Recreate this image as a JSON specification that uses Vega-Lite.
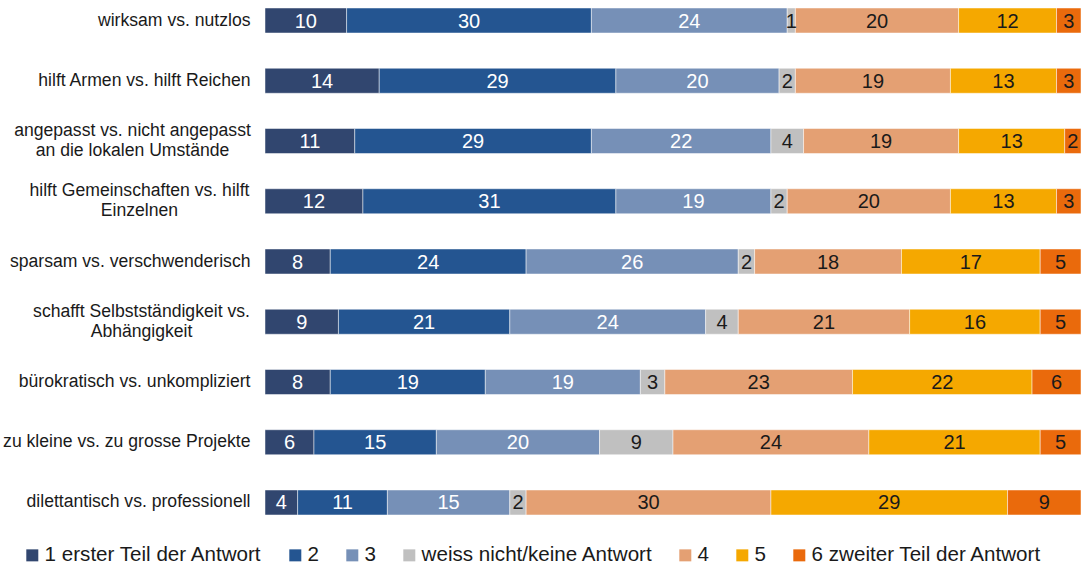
{
  "$schema": "https://vega.github.io/schema/vega-lite/v6.json",
  "width": 816,
  "height": 523,
  "autosize": {"type": "none"},
  "padding": {"left": 265, "top": 0, "right": 2, "bottom": 43},
  "background": "white",
  "config": {"view": {"stroke": null}, "font": "Liberation Sans"},
  "data": {"values": [
    {"q": "wirksam vs. nutzlos", "k": 1, "s": "1 erster Teil der Antwort", "v": 10},
    {"q": "wirksam vs. nutzlos", "k": 2, "s": "2", "v": 30},
    {"q": "wirksam vs. nutzlos", "k": 3, "s": "3", "v": 24},
    {"q": "wirksam vs. nutzlos", "k": 4, "s": "weiss nicht/keine Antwort", "v": 1},
    {"q": "wirksam vs. nutzlos", "k": 5, "s": "4", "v": 20},
    {"q": "wirksam vs. nutzlos", "k": 6, "s": "5", "v": 12},
    {"q": "wirksam vs. nutzlos", "k": 7, "s": "6 zweiter Teil der Antwort", "v": 3},
    {"q": "hilft Armen vs. hilft Reichen", "k": 1, "s": "1 erster Teil der Antwort", "v": 14},
    {"q": "hilft Armen vs. hilft Reichen", "k": 2, "s": "2", "v": 29},
    {"q": "hilft Armen vs. hilft Reichen", "k": 3, "s": "3", "v": 20},
    {"q": "hilft Armen vs. hilft Reichen", "k": 4, "s": "weiss nicht/keine Antwort", "v": 2},
    {"q": "hilft Armen vs. hilft Reichen", "k": 5, "s": "4", "v": 19},
    {"q": "hilft Armen vs. hilft Reichen", "k": 6, "s": "5", "v": 13},
    {"q": "hilft Armen vs. hilft Reichen", "k": 7, "s": "6 zweiter Teil der Antwort", "v": 3},
    {"q": "angepasst vs. nicht angepasst|an die lokalen Umstände", "k": 1, "s": "1 erster Teil der Antwort", "v": 11},
    {"q": "angepasst vs. nicht angepasst|an die lokalen Umstände", "k": 2, "s": "2", "v": 29},
    {"q": "angepasst vs. nicht angepasst|an die lokalen Umstände", "k": 3, "s": "3", "v": 22},
    {"q": "angepasst vs. nicht angepasst|an die lokalen Umstände", "k": 4, "s": "weiss nicht/keine Antwort", "v": 4},
    {"q": "angepasst vs. nicht angepasst|an die lokalen Umstände", "k": 5, "s": "4", "v": 19},
    {"q": "angepasst vs. nicht angepasst|an die lokalen Umstände", "k": 6, "s": "5", "v": 13},
    {"q": "angepasst vs. nicht angepasst|an die lokalen Umstände", "k": 7, "s": "6 zweiter Teil der Antwort", "v": 2},
    {"q": "hilft Gemeinschaften vs. hilft|Einzelnen", "k": 1, "s": "1 erster Teil der Antwort", "v": 12},
    {"q": "hilft Gemeinschaften vs. hilft|Einzelnen", "k": 2, "s": "2", "v": 31},
    {"q": "hilft Gemeinschaften vs. hilft|Einzelnen", "k": 3, "s": "3", "v": 19},
    {"q": "hilft Gemeinschaften vs. hilft|Einzelnen", "k": 4, "s": "weiss nicht/keine Antwort", "v": 2},
    {"q": "hilft Gemeinschaften vs. hilft|Einzelnen", "k": 5, "s": "4", "v": 20},
    {"q": "hilft Gemeinschaften vs. hilft|Einzelnen", "k": 6, "s": "5", "v": 13},
    {"q": "hilft Gemeinschaften vs. hilft|Einzelnen", "k": 7, "s": "6 zweiter Teil der Antwort", "v": 3},
    {"q": "sparsam vs. verschwenderisch", "k": 1, "s": "1 erster Teil der Antwort", "v": 8},
    {"q": "sparsam vs. verschwenderisch", "k": 2, "s": "2", "v": 24},
    {"q": "sparsam vs. verschwenderisch", "k": 3, "s": "3", "v": 26},
    {"q": "sparsam vs. verschwenderisch", "k": 4, "s": "weiss nicht/keine Antwort", "v": 2},
    {"q": "sparsam vs. verschwenderisch", "k": 5, "s": "4", "v": 18},
    {"q": "sparsam vs. verschwenderisch", "k": 6, "s": "5", "v": 17},
    {"q": "sparsam vs. verschwenderisch", "k": 7, "s": "6 zweiter Teil der Antwort", "v": 5},
    {"q": "schafft Selbstständigkeit vs.|Abhängigkeit", "k": 1, "s": "1 erster Teil der Antwort", "v": 9},
    {"q": "schafft Selbstständigkeit vs.|Abhängigkeit", "k": 2, "s": "2", "v": 21},
    {"q": "schafft Selbstständigkeit vs.|Abhängigkeit", "k": 3, "s": "3", "v": 24},
    {"q": "schafft Selbstständigkeit vs.|Abhängigkeit", "k": 4, "s": "weiss nicht/keine Antwort", "v": 4},
    {"q": "schafft Selbstständigkeit vs.|Abhängigkeit", "k": 5, "s": "4", "v": 21},
    {"q": "schafft Selbstständigkeit vs.|Abhängigkeit", "k": 6, "s": "5", "v": 16},
    {"q": "schafft Selbstständigkeit vs.|Abhängigkeit", "k": 7, "s": "6 zweiter Teil der Antwort", "v": 5},
    {"q": "bürokratisch vs. unkompliziert", "k": 1, "s": "1 erster Teil der Antwort", "v": 8},
    {"q": "bürokratisch vs. unkompliziert", "k": 2, "s": "2", "v": 19},
    {"q": "bürokratisch vs. unkompliziert", "k": 3, "s": "3", "v": 19},
    {"q": "bürokratisch vs. unkompliziert", "k": 4, "s": "weiss nicht/keine Antwort", "v": 3},
    {"q": "bürokratisch vs. unkompliziert", "k": 5, "s": "4", "v": 23},
    {"q": "bürokratisch vs. unkompliziert", "k": 6, "s": "5", "v": 22},
    {"q": "bürokratisch vs. unkompliziert", "k": 7, "s": "6 zweiter Teil der Antwort", "v": 6},
    {"q": "zu kleine vs. zu grosse Projekte", "k": 1, "s": "1 erster Teil der Antwort", "v": 6},
    {"q": "zu kleine vs. zu grosse Projekte", "k": 2, "s": "2", "v": 15},
    {"q": "zu kleine vs. zu grosse Projekte", "k": 3, "s": "3", "v": 20},
    {"q": "zu kleine vs. zu grosse Projekte", "k": 4, "s": "weiss nicht/keine Antwort", "v": 9},
    {"q": "zu kleine vs. zu grosse Projekte", "k": 5, "s": "4", "v": 24},
    {"q": "zu kleine vs. zu grosse Projekte", "k": 6, "s": "5", "v": 21},
    {"q": "zu kleine vs. zu grosse Projekte", "k": 7, "s": "6 zweiter Teil der Antwort", "v": 5},
    {"q": "dilettantisch vs. professionell", "k": 1, "s": "1 erster Teil der Antwort", "v": 4},
    {"q": "dilettantisch vs. professionell", "k": 2, "s": "2", "v": 11},
    {"q": "dilettantisch vs. professionell", "k": 3, "s": "3", "v": 15},
    {"q": "dilettantisch vs. professionell", "k": 4, "s": "weiss nicht/keine Antwort", "v": 2},
    {"q": "dilettantisch vs. professionell", "k": 5, "s": "4", "v": 30},
    {"q": "dilettantisch vs. professionell", "k": 6, "s": "5", "v": 29},
    {"q": "dilettantisch vs. professionell", "k": 7, "s": "6 zweiter Teil der Antwort", "v": 9}
  ]},
  "transform": [
    {"stack": "v", "groupby": ["q"], "sort": [{"field": "k", "order": "ascending"}], "as": ["x0", "x1"]},
    {"calculate": "(datum.x0 + datum.x1) / 2", "as": "xm"}
  ],
  "encoding": {
    "y": {
      "field": "q",
      "type": "nominal",
      "sort": null,
      "title": null,
      "scale": {"paddingInner": 0.585, "paddingOuter": 0.133},
      "axis": {
        "domain": false,
        "ticks": false,
        "labelExpr": "split(datum.label, '|')",
        "labelFont": "Liberation Sans",
        "labelFontSize": 17.6,
        "labelColor": "#1a1a1a",
        "labelLineHeight": 20,
        "labelLimit": 300,
        "labelAlign": {"condition": {"test": "indexof(datum.value, '|') >= 0", "value": "center"}, "value": "right"},
        "labelOffset": {"condition": {"test": "indexof(datum.value, '|') >= 0", "value": -10}, "value": 0},
        "labelPadding": {"condition": [
          {"test": "indexof(datum.value, 'angepasst') >= 0", "value": 133},
          {"test": "indexof(datum.value, 'Gemeinschaften') >= 0", "value": 126},
          {"test": "indexof(datum.value, 'Selbst') >= 0", "value": 124}
        ], "value": 15}
      }
    }
  },
  "layer": [
    {
      "mark": {"type": "bar", "stroke": "white", "strokeWidth": 0.6, "strokeOpacity": 0.8},
      "encoding": {
        "x": {"field": "x0", "type": "quantitative", "scale": {"domain": [0, 100], "nice": false}, "axis": null},
        "x2": {"field": "x1"},
        "color": {
          "field": "s",
          "type": "nominal",
          "scale": {
            "domain": ["1 erster Teil der Antwort", "2", "3", "weiss nicht/keine Antwort", "4", "5", "6 zweiter Teil der Antwort"],
            "range": ["#31466F", "#245591", "#7690B7", "#C0C0C0", "#E4A073", "#F5A800", "#EA6A0C"]
          },
          "legend": {
            "title": null,
            "orient": "none",
            "legendX": -243,
            "legendY": 545,
            "direction": "horizontal",
            "symbolType": "square",
            "symbolSize": 144,
            "symbolStrokeWidth": 0,
            "symbolOpacity": 1,
            "labelFont": "Liberation Sans",
            "labelFontSize": 20.6,
            "labelColor": "#1a1a1a",
            "labelOffset": 2,
            "columnPadding": 22,
            "labelLimit": 400
          }
        }
      }
    },
    {
      "mark": {"type": "text", "font": "Liberation Sans", "fontSize": 20, "baseline": "middle", "dy": 1},
      "encoding": {
        "x": {"field": "xm", "type": "quantitative"},
        "text": {"field": "v", "type": "quantitative"},
        "color": {"condition": {"test": "datum.k <= 3", "value": "white"}, "value": "#1a1a1a"}
      }
    }
  ]
}
